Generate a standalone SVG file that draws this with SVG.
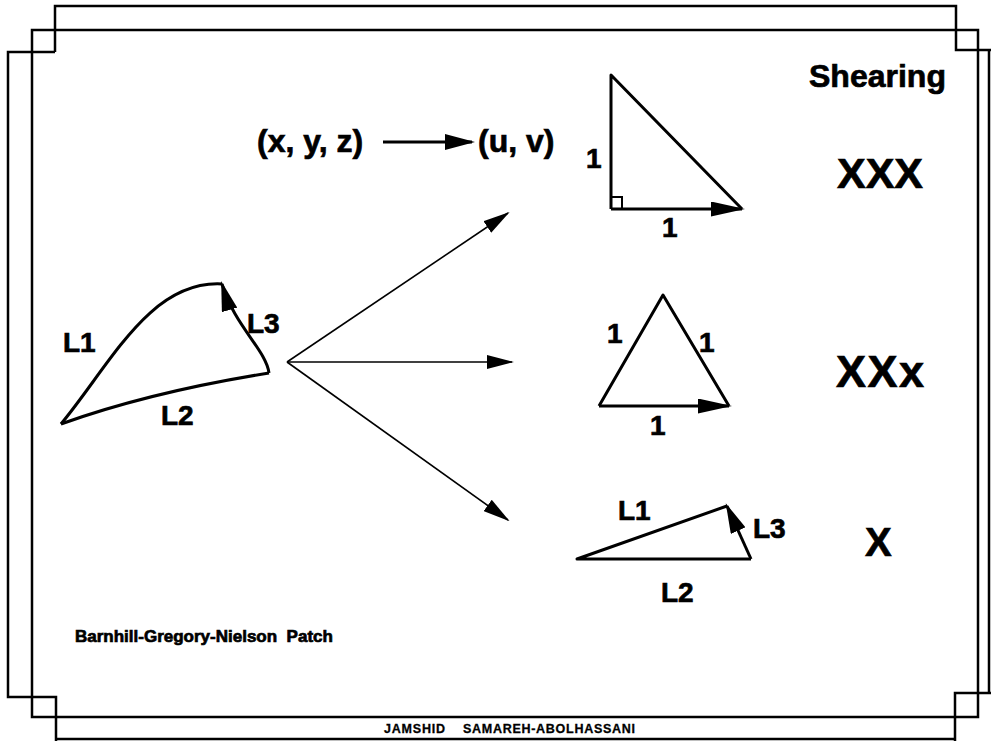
<svg xmlns="http://www.w3.org/2000/svg" width="991" height="741" viewBox="0 0 991 741">
  <style>
    .frame { fill: none; stroke: #000; stroke-width: 2.5; }
    .shape { fill: none; stroke: #000; stroke-width: 3; stroke-linejoin: round; }
    .conn { fill: none; stroke: #000; stroke-width: 1.6; }
    .t { font-family: "Liberation Sans", Arial, Helvetica, sans-serif; font-weight: bold; fill: #000; stroke: #000; stroke-width: 0.7; }
    .small { stroke-width: 0.3; }
  </style>
  <defs>
    <marker id="ah" viewBox="0 0 30 16" refX="27" refY="8" markerWidth="30" markerHeight="16" markerUnits="userSpaceOnUse" orient="auto">
      <path d="M0,0 L30,8 L0,16 z" fill="#000"/>
    </marker>
    <marker id="ahs" viewBox="0 0 27 14" refX="25" refY="7" markerWidth="27" markerHeight="14" markerUnits="userSpaceOnUse" orient="auto">
      <path d="M0,0 L27,7 L0,14 z" fill="#000"/>
    </marker>
    <marker id="ahe" viewBox="0 0 34 15" refX="31" refY="7.5" markerWidth="34" markerHeight="15" markerUnits="userSpaceOnUse" orient="auto">
      <path d="M0,0 L34,7.5 L0,15 z" fill="#000"/>
    </marker>
  </defs>
  <rect width="991" height="741" fill="#fff"/>

  <g id="frame">
    <rect class="frame" x="32" y="30" width="946" height="687"/>
    <path class="frame" d="M55,52 V6 H956 V50 H991"/>
    <path class="frame" d="M55,52 H8 V697 H56 V741"/>
    <path class="frame" d="M991,693 H955 V741"/>
    <path class="frame" d="M989,50 V693"/>
    <path class="frame" d="M56,739 H955" stroke-width="1.5"/>
  </g>

  <g id="connectors">
    <line class="conn" x1="287" y1="362" x2="508" y2="213" marker-end="url(#ahs)"/>
    <line class="conn" x1="287" y1="362" x2="512" y2="362" marker-end="url(#ahs)"/>
    <line class="conn" x1="287" y1="362" x2="508" y2="520" marker-end="url(#ahs)"/>
    <line class="shape" x1="383" y1="142" x2="472" y2="142" stroke-width="2.5" marker-end="url(#ah)"/>
  </g>

  <g id="title">
    <text class="t" x="809" y="87" font-size="32">Shearing</text>
  </g>

  <g id="mapping">
    <text class="t" x="257" y="152" font-size="32">(x, y, z)</text>
    <text class="t" x="478" y="152" font-size="32">(u, v)</text>
  </g>

  <g id="patch">
    <path class="shape" d="M61,424 C110,365 150,280 222,284"/>
    <path class="shape" d="M269,373 C266,350 234,325 222,284" marker-end="url(#ah)"/>
    <path class="shape" d="M269,373 Q150,392 61,424"/>
    <text class="t" x="63" y="352" font-size="28">L1</text>
    <text class="t" x="247" y="333" font-size="28">L3</text>
    <text class="t" x="161" y="425" font-size="28">L2</text>
  </g>

  <g id="right-triangle">
    <path class="shape" d="M611,209 V75 L742,209"/>
    <line class="shape" x1="611" y1="209" x2="742" y2="209" marker-end="url(#ahe)"/>
    <path d="M611,197 H622 V209" fill="none" stroke="#000" stroke-width="2"/>
    <text class="t" x="586" y="168" font-size="28">1</text>
    <text class="t" x="662" y="237" font-size="28">1</text>
  </g>

  <g id="equilateral-triangle">
    <path class="shape" d="M599,406 L663,295 L729,406"/>
    <line class="shape" x1="599" y1="406" x2="729" y2="406" marker-end="url(#ahe)"/>
    <text class="t" x="607" y="343" font-size="28">1</text>
    <text class="t" x="699" y="352" font-size="28">1</text>
    <text class="t" x="650" y="435" font-size="28">1</text>
  </g>

  <g id="flat-triangle">
    <path class="shape" d="M751,559 H577 L727,506"/>
    <line class="shape" x1="751" y1="559" x2="727" y2="506" marker-end="url(#ah)"/>
    <text class="t" x="618" y="520" font-size="28">L1</text>
    <text class="t" x="753" y="538" font-size="28">L3</text>
    <text class="t" x="661" y="602" font-size="28">L2</text>
  </g>

  <g id="ratings">
    <text class="t" x="837" y="188" font-size="43">XXX</text>
    <text class="t" x="836" y="387" font-size="45" letter-spacing="1.5">XXx</text>
    <text class="t" x="865" y="556" font-size="40">X</text>
  </g>

  <g id="caption">
    <text class="t" x="75" y="642" font-size="17" xml:space="preserve">Barnhill-Gregory-Nielson  Patch</text>
  </g>

  <g id="author">
    <text class="t small" x="384" y="733" font-size="12.5" textLength="61">JAMSHID</text>
    <text class="t small" x="463" y="733" font-size="12.5" textLength="172">SAMAREH-ABOLHASSANI</text>
  </g>
</svg>
